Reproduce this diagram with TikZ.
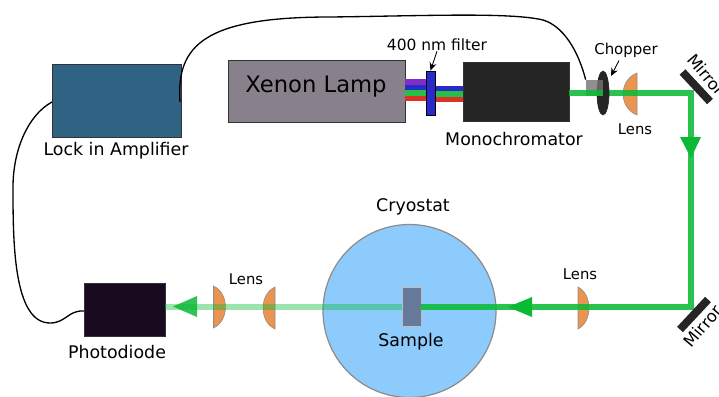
\documentclass[tikz,border=0pt]{standalone}
\usepackage{fontspec}
\setmainfont{DejaVu Sans}
\usetikzlibrary{arrows.meta, shapes.geometric}

\definecolor{lockblue}{HTML}{2E6384}
\definecolor{lampgrey}{HTML}{88818C}
\definecolor{monoblack}{HTML}{252525}
\definecolor{diodeblack}{HTML}{190A20}
\definecolor{cryoblue}{HTML}{8ECBFD}
\definecolor{samplegrey}{HTML}{667B9B}
\definecolor{lensorange}{HTML}{E9944F}
\definecolor{beamgreen}{HTML}{0ABA35}
\definecolor{filterblue}{HTML}{2A2AC8}
\definecolor{bandviolet}{HTML}{7F2FC6}
\definecolor{bandred}{HTML}{DE3126}

\tikzset{
    devbox/.style={draw=black!80, line width=0.5pt, inner sep=0pt, minimum width=#1},
    beam/.style={draw=beamgreen, line width=2.9pt, draw opacity=0.87},
    band/.style={line width=3.2pt},
    wire/.style={draw=black, line width=0.75pt},
    lbl/.style={font=\fontsize{#1}{11}\selectfont, inner sep=0pt},
    lbl/.default=9.9,
    pointer/.style={-{Stealth[length=4.5pt,width=4pt]}, line width=0.5pt},
    lensdraw/.style={draw=black!45, line width=0.3pt, fill=lensorange}
}

\begin{document}
\begin{tikzpicture}[x=0.02cm, y=-0.02cm]
    \useasboundingbox (0,0) rectangle (719,396);
    \clip (0,0) rectangle (719,396);

    % Lens shape, flat side at x
    \newcommand{\lensshape}[3]{
        \draw[lensdraw] (#1,#2-21) .. controls (#1+#3*1.33,#2-14) and (#1+#3*1.33,#2+14) .. (#1,#2+21) -- cycle;
    }

    % Cryostat
    \node[circle, draw=black!45, fill=cryoblue, line width=0.7pt, minimum size=173*0.02cm, inner sep=0pt] (cryostat) at (409.5,311) {};

    % Lenses
    \lensshape{637}{94}{-14}
    \lensshape{578}{308}{11}
    \lensshape{275}{308}{-12}
    \lensshape{213.5}{307}{12}

    % Instruments
    \node[devbox=129*0.02cm, minimum height=73*0.02cm, fill=lockblue] (lockin) at (116.5,100.5) {};
    \node[devbox=177*0.02cm, minimum height=62*0.02cm, fill=lampgrey] (lamp) at (316.5,91) {};
    \node[devbox=106*0.02cm, minimum height=59*0.02cm, fill=monoblack] (mono) at (516,91.5) {};
    \node[devbox=81*0.02cm, minimum height=53*0.02cm, fill=diodeblack] (diode) at (124.5,309.5) {};
    \node[devbox=19*0.02cm, minimum height=39*0.02cm, draw=black!25, fill=samplegrey] (sample) at (411.5,306.5) {};

    % Lamp spectrum
    \coordinate (filterP) at (431,82);
    \coordinate (filterB) at (431,88.5);
    \coordinate (filterG) at (431,94);
    \coordinate (filterR) at (431,99.5);
    \draw[band, draw=bandviolet] (lamp.east |- filterP) -- (filterP);
    \draw[band, draw=filterblue] (405,87.5) -- (431,87.5);
    \draw[band, draw=beamgreen!90!white] (405,93) -- (431,93);
    \draw[band, draw=bandred] (405,98.5) -- (431,98.5);
    \draw[band, draw=filterblue] (filterB) -- (mono.west |- filterB);
    \draw[band, draw=beamgreen!90!white] (filterG) -- (mono.west |- filterG);
    \draw[band, draw=bandred] (filterR) -- (mono.west |- filterR);

    % Filter
    \node[devbox=9*0.02cm, minimum height=44*0.02cm, draw=black, fill=filterblue] (filter) at (430.5,93) {};

    % Beam path
    \coordinate (chopmid) at (603,93);
    \coordinate (turnA) at (691,93);
    \coordinate (turnB) at (691,307);
    \draw[beam] (chopmid) -- (turnA) -- (turnB) -- (sample.east |- turnB);
    \draw[beam, draw opacity=0.4] (sample.west |- turnB) -- (diode.east |- turnB);

    % Chopper
    \node[ellipse, draw=black!85, fill=monoblack, minimum width=12*0.02cm, minimum height=44*0.02cm, inner sep=0pt] (chopper) at (chopmid) {};
    \node[inner sep=0pt, minimum width=17*0.02cm, minimum height=16*0.02cm, fill=black!55, fill opacity=0.8] (head) at (594.5,88) {};
    \draw[beam] (mono.east |- turnA) -- (chopper.center);

    % Arrows on beam
    \fill[beamgreen] (680,137) -- (701,137) -- (691,158) -- cycle;
    \fill[beamgreen] (532,297) -- (532,317) -- (508,307) -- cycle;
    \fill[beamgreen, opacity=0.85] (197,296) -- (197,317) -- (173,306.5) -- cycle;

    % Mirrors
    \draw[line width=4.5pt, draw=monoblack] (682.5,72) -- (710,101.5);
    \draw[line width=4.5pt, draw=monoblack] (680,329.5) -- (708,299.5);

    % Wires
    \coordinate (wireA) at (180,102);
    \coordinate (wireC) at (52,102);
    \coordinate (wireD) at (84,311);
    \draw[wire] (wireA) .. controls (176,45) and (205,17) .. (330,17) .. controls (420,16) and (510,12) .. (543,20) .. controls (563,26) and (578,50) .. (head.north west);
    \draw[wire] (wireC) .. controls (28,115) and (13,150) .. (13,187) .. controls (13,240) and (13,323) .. (50,323) .. controls (66,323) and (68,310) .. (wireD);

    % Labels
    \node[lbl] (lockinlabel) at (116,151) {Lock in Amplifier};
    \node[lbl=12.9] (lamplabel) at (316,87) {Xenon Lamp};
    \node[lbl=8.8] (filterlabel) at (437,45) {400 nm filter};
    \node[lbl] (monolabel) at (514,139) {Monochromator};
    \node[lbl=8.5] (chopperlabel) at (626,50) {Chopper};
    \node[lbl=8.4] (lenslabelA) at (635,129) {Lens};
    \node[lbl=8.4] (lenslabelB) at (580,274) {Lens};
    \node[lbl=8.4] (lenslabelC) at (246,279) {Lens};
    \node[lbl] (cryolabel) at (413,207) {Cryostat};
    \node[lbl] (samplelabel) at (411,342) {Sample};
    \node[lbl] (diodelabel) at (117,352) {Photodiode};
    \node[lbl=9.3, rotate=-50, anchor=west] (mirrorlabelA) at (691,56) {Mirror};
    \node[lbl=9.3, rotate=50, anchor=west] (mirrorlabelB) at (687,345) {Mirror};

    % Pointers
    \coordinate (chopperpoint) at (611,76);
    \draw[pointer] (filterlabel.south) -- (filter.north);
    \draw[pointer] (chopperlabel.south) ++(-7,3) -- (chopperpoint);
\end{tikzpicture}
\end{document}
